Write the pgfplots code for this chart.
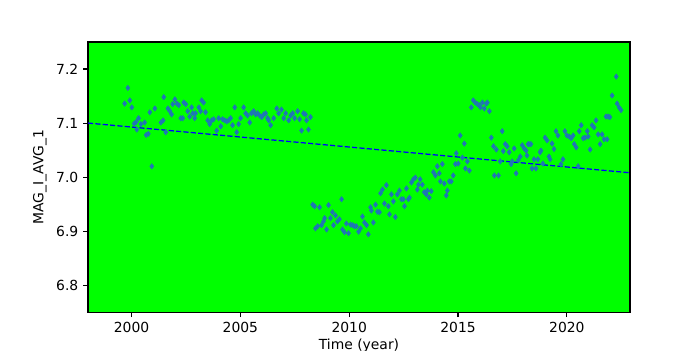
\documentclass[border=0pt]{standalone}
\usepackage{pgfplots}
\pgfplotsset{compat=1.18}
\usepackage{fontspec}
\setmainfont{DejaVu Sans}
\definecolor{mk}{RGB}{31,119,180}
\begin{document}
\begin{tikzpicture}
\begin{axis}[
  at={(0,0)}, anchor=south west,
  scale only axis, width=390pt, height=194.4pt,
  xmin=1998.0, xmax=2022.9, ymin=6.75, ymax=7.25,
  axis background/.style={fill=green},
  xtick={2000,2005,2010,2015,2020},
  ytick={6.8,6.9,7.0,7.1,7.2},
  xtick pos=bottom, ytick pos=left,
  tick align=outside, major tick length=3.5pt,
  tick style={black, line width=0.8pt},
  axis line style={line width=0.8pt},
  /pgf/number format/assume math mode=true,
  xticklabel style={/pgf/number format/1000 sep={}},
  yticklabel style={/pgf/number format/fixed, /pgf/number format/precision=1, /pgf/number format/fixed zerofill},
  tick label style={font=\fontsize{10}{12}\selectfont},
  label style={font=\fontsize{10}{12}\selectfont},
  xlabel={Time (year)},
  ylabel={MAG\_I\_AVG\_1},
  xlabel style={yshift=2pt},
]
\addplot[only marks, mark=diamond*, mark size=1.9pt, color=mk] coordinates {
(1999.68,7.136)(1999.83,7.165)(1999.92,7.142)(2000.01,7.129)(2000.12,7.099)(2000.21,7.102)(2000.24,7.088)(2000.32,7.109)
(2000.43,7.098)(2000.60,7.101)(2000.67,7.078)(2000.77,7.080)(2000.84,7.120)(2000.93,7.020)(2001.07,7.127)(2001.35,7.101)
(2001.45,7.105)(2001.48,7.148)(2001.57,7.083)(2001.67,7.127)(2001.76,7.122)(2001.84,7.116)(2001.89,7.135)(2001.99,7.144)
(2002.08,7.136)(2002.17,7.133)(2002.26,7.109)(2002.35,7.109)(2002.40,7.138)(2002.49,7.135)(2002.58,7.122)(2002.67,7.112)
(2002.76,7.129)(2002.81,7.118)(2002.90,7.109)(2002.94,7.118)(2003.09,7.129)(2003.17,7.122)(2003.22,7.142)(2003.31,7.138)
(2003.40,7.120)(2003.50,7.105)(2003.59,7.098)(2003.68,7.105)(2003.77,7.107)(2003.91,7.086)(2004.00,7.109)(2004.10,7.094)
(2004.18,7.107)(2004.28,7.105)(2004.37,7.103)(2004.46,7.105)(2004.55,7.109)(2004.64,7.096)(2004.74,7.129)(2004.83,7.083)
(2004.92,7.098)(2005.01,7.109)(2005.15,7.129)(2005.24,7.118)(2005.33,7.114)(2005.43,7.101)(2005.51,7.118)(2005.61,7.122)
(2005.70,7.116)(2005.79,7.118)(2005.88,7.114)(2005.98,7.111)(2006.07,7.116)(2006.16,7.118)(2006.25,7.109)(2006.30,7.105)
(2006.39,7.096)(2006.53,7.109)(2006.67,7.127)(2006.76,7.118)(2006.89,7.125)(2006.99,7.109)(2007.08,7.118)(2007.22,7.105)
(2007.31,7.114)(2007.40,7.118)(2007.49,7.109)(2007.63,7.122)(2007.72,7.107)(2007.81,7.086)(2007.90,7.118)(2007.99,7.116)
(2008.04,7.105)(2008.13,7.088)(2008.22,7.111)
(2008.32,6.949)(2008.41,6.946)(2008.45,6.905)(2008.55,6.909)(2008.64,6.944)(2008.73,6.911)(2008.82,6.918)(2008.87,6.924)
(2008.96,6.903)(2009.05,6.948)(2009.14,6.924)(2009.23,6.935)(2009.28,6.911)(2009.37,6.929)(2009.46,6.918)(2009.55,6.922)
(2009.65,6.959)(2009.69,6.903)(2009.78,6.898)(2009.87,6.914)(2009.97,6.896)(2010.06,6.912)(2010.15,6.911)(2010.24,6.909)
(2010.33,6.909)(2010.43,6.899)(2010.52,6.905)(2010.61,6.927)(2010.70,6.916)(2010.80,6.911)(2010.88,6.894)(2010.98,6.944)
(2011.02,6.938)(2011.11,6.916)(2011.21,6.949)(2011.30,6.936)(2011.39,6.935)(2011.44,6.970)(2011.53,6.977)(2011.62,6.951)
(2011.71,6.985)(2011.80,6.946)(2011.85,6.931)(2011.94,6.968)(2012.03,6.955)(2012.12,6.926)(2012.21,6.968)(2012.31,6.975)
(2012.40,6.959)(2012.49,6.959)(2012.54,6.946)(2012.63,6.979)(2012.72,6.959)(2012.77,6.962)(2012.86,6.990)(2012.95,6.996)
(2013.04,6.999)(2013.13,6.977)(2013.18,6.986)(2013.26,6.996)(2013.36,6.986)(2013.45,6.972)(2013.54,6.968)(2013.59,6.975)
(2013.68,6.962)(2013.77,6.974)(2013.87,7.009)(2013.96,7.003)(2014.05,7.020)(2014.14,7.007)(2014.19,6.992)(2014.28,7.024)
(2014.37,6.988)(2014.46,6.966)(2014.51,6.975)(2014.60,6.992)(2014.69,6.992)(2014.78,7.003)(2014.88,7.024)(2014.92,7.044)
(2015.01,7.025)(2015.10,7.077)(2015.20,7.036)(2015.29,7.062)(2015.34,7.016)(2015.43,7.029)(2015.52,7.012)
(2015.61,7.129)(2015.70,7.142)(2015.79,7.138)(2015.89,7.135)(2015.98,7.133)(2016.03,7.129)(2016.12,7.138)(2016.21,7.127)
(2016.30,7.136)(2016.35,7.138)(2016.44,7.122)(2016.53,7.073)(2016.63,7.057)(2016.67,7.003)(2016.76,7.051)(2016.86,7.003)
(2016.94,7.029)(2017.03,7.085)(2017.08,7.048)(2017.17,7.061)(2017.26,7.057)(2017.35,7.046)(2017.44,7.024)(2017.49,7.029)
(2017.58,7.053)(2017.67,7.007)(2017.77,7.031)(2017.86,7.038)(2017.95,7.059)(2018.04,7.053)(2018.13,7.049)(2018.17,7.040)
(2018.22,7.061)(2018.26,7.061)(2018.35,7.061)(2018.40,7.016)(2018.49,7.033)(2018.58,7.016)(2018.67,7.033)(2018.77,7.046)
(2018.81,7.049)(2018.90,7.025)(2019.00,7.073)(2019.09,7.068)(2019.18,7.038)(2019.23,7.033)(2019.32,7.062)(2019.41,7.052)
(2019.50,7.085)(2019.59,7.077)(2019.73,7.024)(2019.82,7.033)(2019.91,7.085)(2020.00,7.077)(2020.11,7.075)(2020.20,7.072)
(2020.29,7.077)(2020.34,7.061)(2020.43,7.055)(2020.52,7.020)(2020.57,7.085)(2020.66,7.096)(2020.75,7.072)(2020.84,7.073)
(2020.94,7.085)(2020.98,7.075)(2021.07,7.051)(2021.16,7.096)(2021.25,7.092)(2021.34,7.105)(2021.44,7.079)(2021.53,7.061)
(2021.62,7.079)(2021.71,7.070)(2021.80,7.112)(2021.85,7.070)(2021.90,7.112)(2021.98,7.111)(2022.08,7.151)(2022.27,7.186)
(2022.31,7.136)(2022.40,7.129)(2022.49,7.124)
};
\addplot[blue, line width=0.9pt, dash pattern=on 3.7pt off 1.6pt] coordinates {(1998.0,7.100)(2022.9,7.008)};
\end{axis}
\pgfresetboundingbox
\path[use as bounding box] (-63.36pt,-27.36pt) rectangle (440.4pt,224.64pt);
\end{tikzpicture}
\end{document}
